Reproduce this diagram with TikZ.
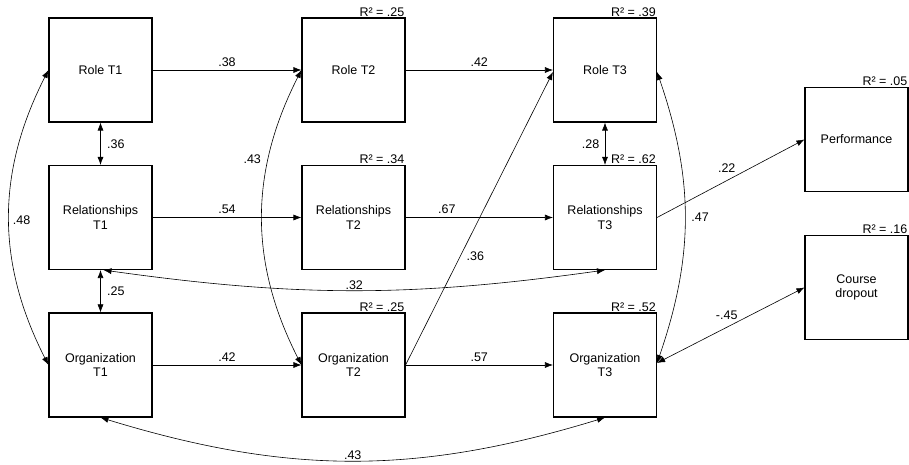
\documentclass[tikz,border=0pt]{standalone}
\usepackage{fontspec}
\setmainfont{Liberation Sans}
\usetikzlibrary{arrows.meta}

\begin{document}
\begin{tikzpicture}[x=1pt, y=1pt,
    every node/.style={font=\fontsize{12.5}{14.5}\selectfont},
    var/.style={draw, line width=1.1pt, minimum width=103pt, minimum height=104pt, inner sep=0pt, align=center},
    link/.style={-{Latex[length=8pt,width=6pt]}, line width=0.6pt},
    corr/.style={{Latex[length=8pt,width=6pt]}-{Latex[length=8pt,width=6pt]}, line width=0.6pt},
    rsq/.style={anchor=south east, inner sep=1pt}]

    \useasboundingbox (0,0) rectangle (909,465);

    % Define the variables for the three waves T1, T2, T3
    \node[var] (roleA) at (100.5, 395) {Role T1};
    \node[var] (relA)  at (100.5, 247.5) {Relationships\\T1};
    \node[var] (orgA)  at (100.5, 100) {Organization\\T1};

    \node[var] (roleB) at (353.5, 395) {Role T2};
    \node[var] (relB)  at (353.5, 247.5) {Relationships\\T2};
    \node[var] (orgB)  at (353.5, 100) {Organization\\T2};

    \node[var] (roleC) at (605, 395) {Role T3};
    \node[var] (relC)  at (605, 247.5) {Relationships\\T3};
    \node[var] (orgC)  at (605, 100) {Organization\\T3};

    % Outcomes
    \node[var] (perf) at (856.5, 325.5) {Performance};
    \node[var] (drop) at (856.5, 177.5) {Course\\dropout};

    % Explained variance above the boxes
    \node[rsq] (rRoleB) at (roleB.north east) {R² = .25};
    \node[rsq] (rRelB)  at (relB.north east)  {R² = .34};
    \node[rsq] (rOrgB)  at (orgB.north east)  {R² = .25};
    \node[rsq] (rRoleC) at (roleC.north east) {R² = .39};
    \node[rsq] (rRelC)  at (relC.north east)  {R² = .62};
    \node[rsq] (rOrgC)  at (orgC.north east)  {R² = .52};
    \node[rsq] (rPerf)  at (perf.north east)  {R² = .05};
    \node[rsq] (rDrop)  at (drop.north east)  {R² = .16};

    % Paths from one wave to the next
    \draw[link] (roleA) -- (roleB) node [midway, above] {.38};
    \draw[link] (roleB) -- (roleC) node [midway, above] {.42};
    \draw[link] (relA) -- (relB) node [midway, above] {.54};
    \draw[link] (relB) -- (relC) node [pos=0.28, above] {.67};
    \draw[link] (orgA) -- (orgB) node [midway, above] {.42};
    \draw[link] (orgB) -- (orgC) node [midway, above] {.57};
    \draw[link] (orgB.east) -- ([yshift=-2pt]roleC.west) node [pos=0.37, right, xshift=3pt] {.36};

    % Paths to the outcomes
    \draw[link] (relC.east) -- (perf.west) node [midway, above, xshift=-4pt, yshift=2pt] {.22};
    \draw[corr] ([yshift=2pt]orgC.east) -- (drop.west) node [midway, above, xshift=-4pt, yshift=2pt] {-.45};

    % Correlations within a wave
    \draw[corr] (roleA) -- (relA) node [midway, right, xshift=3pt] {.36};
    \draw[corr] (relA) -- (orgA) node [midway, right, xshift=3pt] {.25};
    \draw[corr] (roleC) -- (relC) node [midway, left, xshift=-2pt] {.28};

    % Correlations across waves
    \draw[corr] (roleA.west) to [bend right=27] node [midway, right, yshift=-3pt] {.48} (orgA.west);
    \draw[corr] (roleB.west) to [bend right=27] node [pos=0.3, left, xshift=-4pt] {.43} (orgB.west);
    \draw[corr] ([yshift=-2pt]roleC.east) to [bend left=19] node [midway, right, xshift=3pt] {.47} ([yshift=2pt]orgC.east);
    \draw[corr] ([xshift=3pt]relA.south) to [bend right=8] node [midway, above, inner sep=1pt] {.32} (relC.south);
    \draw[corr] (orgA.south) to [bend right=17] node [midway, above, inner sep=1pt] {.43} (orgC.south);

\end{tikzpicture}
\end{document}
